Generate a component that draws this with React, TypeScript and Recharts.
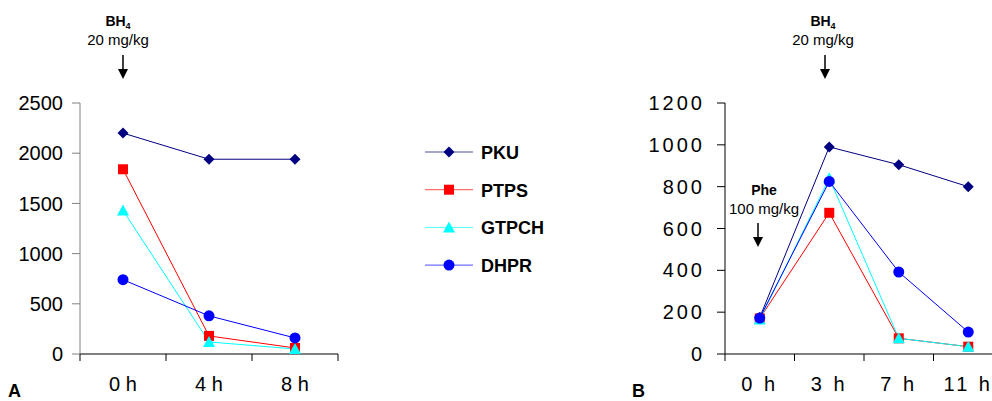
import { Line, LineChart, XAxis, YAxis } from 'recharts';

// panel A: after BH4 load
const hoursA = ['0 h', '4 h', '8 h'];
const pkuA = [2200, 1940, 1940];
const ptpsA = [1840, 180, 60];
const gtpchA = [1430, 120, 50];
const dhprA = [740, 380, 160];
const yTicksA = [0, 500, 1000, 1500, 2000, 2500];

// panel B: Phe load then BH4
const hoursB = ['0 h', '3 h', '7 h', '11 h'];
const pkuB = [175, 990, 905, 800];
const ptpsB = [170, 675, 75, 35];
const gtpchB = [165, 840, 75, 35];
const dhprB = [172, 825, 392, 105];
const yTicksB = [0, 200, 400, 600, 800, 1000, 1200];

const SERIES = [
  { key: 'PKU', color: '#000080', shape: 'diamond' },
  { key: 'PTPS', color: '#ff0000', shape: 'square' },
  { key: 'GTPCH', color: '#00ffff', shape: 'triangle' },
  { key: 'DHPR', color: '#0000ff', shape: 'circle' },
];

const FONT = '"Liberation Sans", Arial, sans-serif';

function buildRows(hours: string[], pku: number[], ptps: number[], gtpch: number[], dhpr: number[]) {
  return hours.map((h, i) => ({
    x: i + 0.5,
    label: h,
    PKU: pku[i],
    PTPS: ptps[i],
    GTPCH: gtpch[i],
    DHPR: dhpr[i],
  }));
}

const dataA = buildRows(hoursA, pkuA, ptpsA, gtpchA, dhprA);
const dataB = buildRows(hoursB, pkuB, ptpsB, gtpchB, dhprB);

function Marker({ shape, color, cx, cy }: { shape: string; color: string; cx: number; cy: number }) {
  if (shape === 'diamond') {
    return <polygon points={`${cx},${cy - 5.5} ${cx + 5.5},${cy} ${cx},${cy + 5.5} ${cx - 5.5},${cy}`} fill={color} />;
  }
  if (shape === 'square') {
    return <rect x={cx - 5} y={cy - 5} width={10} height={10} fill={color} />;
  }
  if (shape === 'triangle') {
    return <polygon points={`${cx},${cy - 6} ${cx + 6},${cy + 5} ${cx - 6},${cy + 5}`} fill={color} />;
  }
  return <circle cx={cx} cy={cy} r={5.5} fill={color} />;
}

function makeDot(shape: string, color: string) {
  return (props: any) => {
    const { cx, cy, index } = props;
    if (cx == null || cy == null) return <g key={`e-${index}`} />;
    return (
      <g key={`${shape}-${index}`}>
        <Marker shape={shape} color={color} cx={cx} cy={cy} />
      </g>
    );
  };
}

function makeXTick(labels: string[], spacing: number) {
  return (props: any) => {
    const { x, y, payload } = props;
    const v = payload.value as number;
    if (Number.isInteger(v)) {
      return <line x1={x} x2={x} y1={y} y2={y + 7} stroke="#000" strokeWidth={1} />;
    }
    return (
      <text x={x} y={y + 37} textAnchor="middle" fontSize={20} fontFamily={FONT} fill="#000" letterSpacing={spacing}>
        {labels[Math.floor(v)]}
      </text>
    );
  };
}

function halfTicks(n: number) {
  const t: number[] = [];
  for (let i = 0; i <= n * 2; i++) t.push(i / 2);
  return t;
}

function Panel({
  data,
  hours,
  yTicks,
  yMax,
  width,
  yWidth,
  right,
  yAxisColor,
  spacing,
}: {
  data: any[];
  hours: string[];
  yTicks: number[];
  yMax: number;
  width: number;
  yWidth: number;
  right: number;
  yAxisColor: string;
  spacing: number;
}) {
  return (
    <LineChart width={width} height={401} data={data} margin={{ top: 103, right, bottom: 7, left: 0 }}>
      <XAxis
        type="number"
        dataKey="x"
        domain={[0, hours.length]}
        ticks={halfTicks(hours.length)}
        interval={0}
        tickLine={false}
        tickSize={0}
        tickMargin={0}
        height={40}
        axisLine={{ stroke: '#000' }}
        tick={makeXTick(hours, spacing)}
      />
      <YAxis
        domain={[0, yMax]}
        ticks={yTicks}
        interval={0}
        width={yWidth}
        tickSize={8}
        tickMargin={spacing ? 12 : 9}
        axisLine={{ stroke: yAxisColor }}
        tickLine={{ stroke: yAxisColor }}
        tick={{ fontSize: 20, fontFamily: FONT, fill: '#000', letterSpacing: spacing }}
      />
      {SERIES.map((s) => (
        <Line
          key={s.key}
          dataKey={s.key}
          stroke={s.color}
          strokeWidth={1}
          dot={makeDot(s.shape, s.color)}
          activeDot={false}
          isAnimationActive={false}
        />
      ))}
    </LineChart>
  );
}

function DownArrow({ x, y1, y2 }: { x: number; y1: number; y2: number }) {
  return (
    <g>
      <line x1={x} x2={x} y1={y1} y2={y2 - 4} stroke="#000" strokeWidth={1.5} />
      <polygon points={`${x - 5},${y2 - 10} ${x + 5},${y2 - 10} ${x},${y2}`} fill="#000" />
    </g>
  );
}

function Dose({ cx, drug, sub, dose, top, arrowX, arrowTop, arrowBottom }: any) {
  return (
    <g fontFamily={FONT} fill="#000">
      <text x={cx} y={top} textAnchor="middle" fontSize={14} fontWeight="bold">
        {drug}
        {sub ? (
          <tspan fontSize={9} dy={3}>
            {sub}
          </tspan>
        ) : null}
      </text>
      <text x={cx} y={top + 19} textAnchor="middle" fontSize={15}>
        {dose}
      </text>
      <DownArrow x={arrowX} y1={arrowTop} y2={arrowBottom} />
    </g>
  );
}

export default function App() {
  return (
    <div style={{ position: 'absolute', left: 0, top: 0, width: 992, height: 401, overflow: 'hidden', background: '#fff' }}>
      <div style={{ position: 'absolute', left: 0, top: 0 }}>
        <Panel data={dataA} hours={hoursA} yTicks={yTicksA} yMax={2500} width={345} yWidth={80} right={7} yAxisColor="#808080" spacing={0} />
      </div>
      <div style={{ position: 'absolute', left: 620, top: 0 }}>
        <Panel data={dataB} hours={hoursB} yTicks={yTicksB} yMax={1200} width={400} yWidth={105} right={17} yAxisColor="#000" spacing={3} />
      </div>
      <svg width={992} height={401} style={{ position: 'absolute', left: 0, top: 0, pointerEvents: 'none' }}>
        <Dose cx={118} drug="BH" sub="4" dose="20 mg/kg" top={26} arrowX={123} arrowTop={55} arrowBottom={79} />
        <Dose cx={823} drug="BH" sub="4" dose="20 mg/kg" top={26} arrowX={825} arrowTop={55} arrowBottom={79} />
        <Dose cx={764} drug="Phe" dose="100 mg/kg" top={195} arrowX={758} arrowTop={223} arrowBottom={247} />
        {SERIES.map((s, i) => {
          const y = 152 + i * 37.7;
          return (
            <g key={s.key}>
              <line x1={425} x2={473} y1={y} y2={y} stroke={s.color} strokeWidth={1} opacity={0.7} />
              <Marker shape={s.shape} color={s.color} cx={449} cy={y} />
              <text x={481} y={y + 7} fontSize={18} fontWeight="bold" fontFamily={FONT} fill="#000">
                {s.key}
              </text>
            </g>
          );
        })}
        <text x={8} y={397} fontSize={18} fontWeight="bold" fontFamily={FONT} fill="#000">
          A
        </text>
        <text x={632} y={397} fontSize={18} fontWeight="bold" fontFamily={FONT} fill="#000">
          B
        </text>
      </svg>
    </div>
  );
}
